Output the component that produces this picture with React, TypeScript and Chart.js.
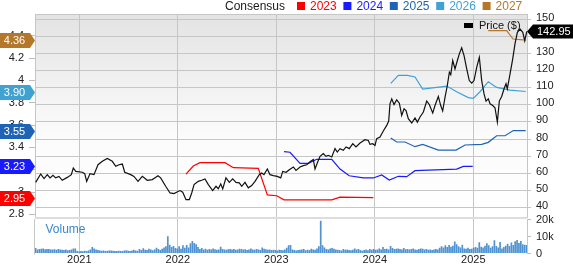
import React, { useEffect, useRef } from 'react';
import { Chart, registerables } from 'chart.js';
Chart.register(...registerables);

const FONT = '"Liberation Sans", Arial, Helvetica, sans-serif';

const X_MIN = 2020.5503;
const X_MAX = 2025.545;
const yearTicks = [2021, 2022, 2023, 2024, 2025];
const priceTicks = [40, 50, 60, 70, 80, 90, 100, 110, 120, 130, 140, 150];
const epsTicks = [2.8, 3.0, 3.2, 3.4, 3.6, 3.8, 4.0, 4.2, 4.4];
const volTicks = [0, 5, 10, 15, 20];

const priceDates = [2020.557,2020.608,2020.642,2020.675,2020.703,2020.733,2020.760,2020.794,2020.827,2020.878,2020.919,2020.939,2020.964,2021.031,2021.055,2021.075,2021.109,2021.149,2021.190,2021.234,2021.284,2021.335,2021.370,2021.403,2021.437,2021.461,2021.522,2021.555,2021.596,2021.640,2021.690,2021.741,2021.766,2021.799,2021.826,2021.877,2021.921,2021.961,2022.022,2022.050,2022.083,2022.117,2022.141,2022.165,2022.208,2022.243,2022.276,2022.310,2022.354,2022.388,2022.411,2022.436,2022.456,2022.489,2022.523,2022.557,2022.591,2022.624,2022.649,2022.682,2022.716,2022.750,2022.784,2022.827,2022.852,2022.875,2022.909,2022.936,2022.970,2023.010,2023.045,2023.065,2023.099,2023.132,2023.173,2023.200,2023.241,2023.274,2023.309,2023.349,2023.376,2023.393,2023.416,2023.444,2023.477,2023.505,2023.528,2023.563,2023.596,2023.619,2023.647,2023.680,2023.708,2023.741,2023.776,2023.809,2023.850,2023.901,2023.934,2023.951,2023.979,2024.002,2024.019,2024.053,2024.086,2024.121,2024.141,2024.154,2024.172,2024.195,2024.222,2024.249,2024.273,2024.297,2024.317,2024.340,2024.375,2024.408,2024.432,2024.459,2024.493,2024.527,2024.553,2024.588,2024.611,2024.645,2024.669,2024.689,2024.713,2024.736,2024.757,2024.771,2024.791,2024.814,2024.838,2024.858,2024.882,2024.906,2024.933,2024.959,2024.984,2025.007,2025.035,2025.061,2025.085,2025.109,2025.129,2025.152,2025.170,2025.197,2025.220,2025.244,2025.264,2025.288,2025.312,2025.332,2025.345,2025.373,2025.400,2025.423,2025.447,2025.474,2025.502,2025.522,2025.543];
const priceValues = [54.7,59.6,56.9,59.2,57.3,58.8,57.3,58.2,55.9,57.6,59.2,63.1,61.1,60.6,59.8,55.3,59.8,59.2,65,67,68.7,67,64.1,65,65.4,60.6,59.2,58.2,55.3,58.2,55.9,56.3,57.3,58.6,57.3,52.4,48.5,48.1,49.9,48.9,44.6,44.6,48.5,53.4,55.3,55.9,56.7,53.4,49.9,52.4,51,53.8,50.9,57.3,54.7,56.7,54.7,54.4,52.4,54.7,51.5,52.8,55.3,59.2,60.2,59.2,62.5,59.2,58.6,58.2,57.3,61.1,60.6,62.1,63.7,61.7,63.7,64.5,65,67,68,62.5,66,69.9,71.5,69.9,70.5,69.5,74.4,72.4,74.4,73.4,75.4,74.4,77.3,75.4,77.7,79.6,79.2,76.9,77.3,76.3,80.2,81.2,84.7,88,90.5,100.6,103.5,100.2,102.9,101,93.8,97.7,96.7,91.9,89.4,92.4,89.9,92.9,95.8,102.2,100.2,95.2,99.6,104.9,99.6,96.4,104.5,111.3,119.1,117.7,125.9,121,125.9,129.8,133.3,128.8,121,114.2,112.7,114.2,122,127.8,114.2,106.4,102.2,103.5,100.6,99.6,98.3,89.9,102.2,104.9,109.4,112.3,109.4,118.1,126.9,135.6,142.4,144.3,142.4,137.5,142.95];

const eps2023Dates = [2022.083,2022.157,2022.225,2022.479,2022.564,2022.817,2022.909,2023.004,2023.078,2023.563,2023.647,2023.985];
const eps2023Values = [3.161,3.233,3.263,3.263,3.218,3.212,2.974,2.967,2.93,2.93,2.955,2.95];
const eps2024Dates = [2023.078,2023.139,2023.241,2023.325,2023.410,2023.563,2023.647,2023.741,2023.884,2023.985,2024.070,2024.147,2024.239,2024.324,2024.408,2024.543,2024.764,2024.831,2024.899,2024.994];
const eps2024Values = [3.361,3.356,3.257,3.257,3.293,3.293,3.206,3.146,3.126,3.126,3.153,3.108,3.141,3.138,3.191,3.197,3.203,3.205,3.23,3.23];
const eps2025Dates = [2024.162,2024.222,2024.307,2024.408,2024.486,2024.645,2024.825,2024.916,2025.085,2025.152,2025.237,2025.322,2025.406,2025.532];
const eps2025Values = [3.484,3.448,3.448,3.406,3.427,3.376,3.376,3.421,3.427,3.445,3.504,3.504,3.55,3.55];
const eps2026Dates = [2024.162,2024.239,2024.330,2024.408,2024.486,2024.629,2024.730,2024.831,2024.949,2025.000,2025.068,2025.152,2025.237,2025.373,2025.532];
const eps2026Values = [3.973,4.045,4.045,4.03,3.922,3.937,3.949,3.898,3.845,3.839,3.898,3.988,3.937,3.913,3.90];
const eps2027Dates = [2025.152,2025.339,2025.403,2025.532];
const eps2027Values = [4.445,4.445,4.37,4.36];

const seriesYears = ['2023', '2024', '2025', '2026', '2027'];
const seriesColors = ['#ff0000', '#1a1aff', '#1f63b5', '#3fa2d3', '#b5782b'];
const seriesDates = [eps2023Dates, eps2024Dates, eps2025Dates, eps2026Dates, eps2027Dates];
const seriesValues = [eps2023Values, eps2024Values, eps2025Values, eps2026Values, eps2027Values];

const VOL_START = 2020.557;
const WEEK = 7 / 365.25;
const vol2020 = [3.2,2.4,2.6,2.8,2.9,2.5,2.7,2.6,2.4,2.3,2.5,2.2,2.6,2.4,2.2,2.0,2.3,1.9,2.1,2.4,2.9,3.0,1.5];
const vol2021 = [1.2,1.4,1.3,1.6,1.5,1.8,2.4,3.8,3.0,2.4,2.0,1.8,1.6,1.7,1.5,1.6,1.8,1.7,1.6,1.5,1.4,1.6,1.5,1.4,1.7,1.9,1.6,1.5,1.8,2.2,1.7,1.6,2.6,2.0,3.1,2.2,2.0,2.8,2.3,1.9,2.4,3.4,2.6,2.1,2.8,3.6,4.2,10.2,5.2,3.8,4.4,3.2];
const vol2022 = [3.0,4.2,2.8,4.8,3.4,5.0,3.6,6.0,7.4,6.2,5.4,3.8,2.6,3.2,2.4,2.8,2.2,2.6,2.4,3.0,2.5,2.2,2.4,3.9,2.6,2.4,2.2,2.5,2.7,2.3,2.6,2.2,2.4,2.8,2.6,2.3,2.5,2.1,2.4,2.9,2.3,2.2,2.6,2.4,2.1,3.6,2.8,2.5,2.2,2.4,2.0,2.2];
const vol2023 = [2.0,1.8,2.2,2.0,1.9,2.4,3.4,4.8,5.0,2.4,2.0,1.8,2.0,2.2,2.3,2.6,1.9,2.2,2.0,2.8,2.4,2.2,3.0,4.2,19.2,4.8,3.6,2.6,2.4,3.0,3.2,2.8,2.4,2.2,2.0,1.8,2.6,2.2,2.4,2.0,1.9,2.2,3.0,2.4,2.6,2.1,1.6,2.0,2.4,1.9,2.6,2.2];
const vol2024 = [2.6,2.2,2.4,3.0,2.4,3.8,2.6,2.8,2.4,4.4,3.2,2.6,2.8,3.0,2.6,2.4,3.2,2.5,2.7,2.3,2.6,2.9,2.4,2.2,2.6,3.0,2.8,2.4,2.6,2.2,2.4,2.0,2.3,2.6,2.4,3.4,4.2,3.6,4.8,3.8,5.0,4.0,4.6,7.0,5.4,4.2,3.6,5.2,3.0,2.8,3.4,2.6];
const vol2025 = [2.8,3.4,3.8,3.4,6.6,4.0,3.6,4.6,6.0,4.8,3.4,4.2,7.8,4.4,3.6,6.8,3.0,3.8,4.6,5.8,4.4,6.4,5.0,7.2,8.0,6.2,7.4,5.4,5.2,5.0];
const volumeValues = [...vol2020, ...vol2021, ...vol2022, ...vol2023, ...vol2024, ...vol2025];

const LAST_PRICE = 142.95;
const GRID = '#c6c6c6';

function pts(d: number[], v: number[]) {
  return d.map((x, i) => ({ x, y: v[i] }));
}

function zeroPad(s: any) {
  s.paddingTop = 0; s.paddingBottom = 0; s.paddingLeft = 0; s.paddingRight = 0;
}

const mainDecor = {
  id: 'mainDecor',
  beforeDraw(chart: any) {
    const { ctx, chartArea: a } = chart;
    ctx.save();
    const g = ctx.createLinearGradient(0, a.top, 0, a.bottom);
    g.addColorStop(0, '#e3e3e3');
    g.addColorStop(0.6, '#fbfbfb');
    g.addColorStop(1, '#ffffff');
    ctx.fillStyle = g;
    ctx.fillRect(a.left, a.top, a.right - a.left, a.bottom - a.top);
    ctx.restore();
  },
  afterDraw(chart: any) {
    const { ctx, chartArea: a, scales } = chart;
    ctx.save();
    ctx.strokeStyle = GRID; ctx.lineWidth = 1;
    ctx.beginPath(); ctx.moveTo(a.left, a.top + 0.5); ctx.lineTo(a.right, a.top + 0.5); ctx.stroke();
    ctx.fillStyle = '#dddddd';
    ctx.fillRect(a.left, a.bottom, a.right - a.left, 2);

    // consensus legend
    ctx.font = `12px ${FONT}`; ctx.textAlign = 'left'; ctx.textBaseline = 'alphabetic';
    ctx.fillStyle = '#1a1a1a';
    ctx.fillText('Consensus', 225, 10);
    seriesYears.forEach((yr, i) => {
      const bx = 297 + i * 46.4;
      ctx.fillStyle = seriesColors[i];
      ctx.fillRect(bx, 2, 8, 8);
      ctx.fillText(yr, bx + 13, 10);
    });

    // price legend
    ctx.fillStyle = '#000';
    ctx.fillRect(464, 23, 9, 5);
    ctx.font = `11px ${FONT}`; ctx.textBaseline = 'middle';
    ctx.fillStyle = '#111';
    ctx.fillText('Price ($)', 479, 26);

    // eps tags
    const yE = scales.yE;
    for (let i = seriesYears.length - 1; i >= 0; i--) {
      const vals = seriesValues[i];
      const v = vals[vals.length - 1];
      const y = Math.round(yE.getPixelForValue(v)) + 0.5;
      const h = 15;
      ctx.fillStyle = seriesColors[i];
      ctx.beginPath();
      ctx.moveTo(0, y - h / 2); ctx.lineTo(30, y - h / 2); ctx.lineTo(35, y);
      ctx.lineTo(30, y + h / 2); ctx.lineTo(0, y + h / 2); ctx.closePath(); ctx.fill();
      ctx.fillStyle = '#fff'; ctx.font = `11px ${FONT}`;
      ctx.textAlign = 'center'; ctx.textBaseline = 'middle';
      ctx.fillText(v.toFixed(2), 14.5, y + 0.5);
    }

    // price tag
    const yP = scales.yP;
    const py = Math.round(yP.getPixelForValue(LAST_PRICE)) + 0.5;
    ctx.fillStyle = '#000';
    ctx.beginPath();
    ctx.moveTo(a.right, py); ctx.lineTo(a.right + 6, py - 7); ctx.lineTo(573, py - 7);
    ctx.lineTo(573, py + 7); ctx.lineTo(a.right + 6, py + 7); ctx.closePath(); ctx.fill();
    ctx.fillStyle = '#fff'; ctx.textAlign = 'left'; ctx.textBaseline = 'middle';
    ctx.font = `11px ${FONT}`;
    ctx.fillText(LAST_PRICE.toFixed(2), a.right + 10, py + 0.5);
    ctx.restore();
  },
};

const volDecor = {
  id: 'volDecor',
  beforeDraw(chart: any) {
    const { ctx, chartArea: a } = chart;
    ctx.save();
    ctx.fillStyle = '#ffffff';
    ctx.fillRect(a.left, a.top, a.right - a.left, a.bottom - a.top);
    ctx.restore();
  },
  afterDraw(chart: any) {
    const { ctx, chartArea: a } = chart;
    ctx.save();
    ctx.strokeStyle = GRID; ctx.lineWidth = 1;
    ctx.beginPath(); ctx.moveTo(a.left - 0.5, a.top); ctx.lineTo(a.left - 0.5, a.bottom + 1); ctx.stroke();
    ctx.font = `12px ${FONT}`; ctx.fillStyle = '#3a88cc';
    ctx.textAlign = 'left'; ctx.textBaseline = 'alphabetic';
    ctx.fillText('Volume', 45.5, a.top + 14);
    ctx.restore();
  },
};

export default function App() {
  const mainRef = useRef<HTMLCanvasElement>(null);
  const volRef = useRef<HTMLCanvasElement>(null);

  useEffect(() => {
    const tickFont = { family: FONT, size: 11 };
    const main = new Chart(mainRef.current!, {
      type: 'line',
      data: {
        datasets: [
          {
            data: pts(priceDates, priceValues), yAxisID: 'yP', borderColor: '#111',
            borderWidth: 1.2, pointRadius: 0, tension: 0,
          } as any,
          ...seriesYears.map((yr, i) => ({
            data: pts(seriesDates[i], seriesValues[i]), yAxisID: 'yE', borderColor: seriesColors[i],
            borderWidth: 1.2, pointRadius: 0, tension: 0, label: yr,
          })),
        ],
      },
      options: {
        responsive: false, animation: false, devicePixelRatio: 1, events: [],
        layout: { padding: { top: 14, left: 0, right: 0, bottom: 2 } },
        plugins: { legend: { display: false }, tooltip: { enabled: false } },
        scales: {
          x: {
            type: 'linear', min: X_MIN, max: X_MAX, offset: false,
            afterBuildTicks: (s: any) => { s.ticks = yearTicks.map((v) => ({ value: v })); },
            afterFit: (s: any) => { s.height = 0; zeroPad(s); },
            ticks: { display: false },
            grid: { color: GRID, drawTicks: false, offset: false },
            border: { display: false },
          },
          yP: {
            type: 'linear', position: 'right', min: 34.45, max: 153.1,
            afterBuildTicks: (s: any) => { s.ticks = priceTicks.map((v) => ({ value: v })); },
            afterFit: (s: any) => { s.width = 46; zeroPad(s); },
            ticks: { font: tickFont, color: '#222', padding: 5, labelOffset: -1.5, callback: (v: any) => String(v) },
            grid: { color: GRID, tickLength: 4 },
            border: { display: true, color: GRID },
          },
          yE: {
            type: 'linear', position: 'left', min: 2.7765, max: 4.594,
            afterBuildTicks: (s: any) => { s.ticks = epsTicks.map((v) => ({ value: v })); },
            afterFit: (s: any) => { s.width = 35; zeroPad(s); },
            ticks: { font: tickFont, color: '#222', padding: 5, callback: (v: any) => String(Math.round(v * 10) / 10) },
            grid: { drawOnChartArea: false, color: '#bdbdbd', tickLength: 6 },
            border: { display: true, color: GRID },
          },
        },
      } as any,
      plugins: [mainDecor],
    });

    const vol = new Chart(volRef.current!, {
      type: 'bar',
      data: {
        datasets: [{
          data: volumeValues.map((v, i) => ({ x: VOL_START + i * WEEK, y: v })),
          backgroundColor: '#4f93d2', borderWidth: 0, barPercentage: 0.9, categoryPercentage: 1,
          yAxisID: 'yV',
        } as any],
      },
      options: {
        responsive: false, animation: false, devicePixelRatio: 1, events: [],
        layout: { padding: { top: 10, left: 35, right: 0, bottom: 0 } },
        plugins: { legend: { display: false }, tooltip: { enabled: false } },
        scales: {
          x: {
            type: 'linear', min: X_MIN, max: X_MAX, offset: false,
            afterBuildTicks: (s: any) => { s.ticks = yearTicks.map((v) => ({ value: v })); },
            afterFit: (s: any) => { s.height = 10.5; zeroPad(s); },
            ticks: { font: tickFont, color: '#222', padding: 0, maxRotation: 0, callback: (v: any) => String(v) },
            grid: { color: GRID, drawTicks: false, offset: false },
            border: { display: false },
          },
          yV: {
            type: 'linear', position: 'right', min: 0, max: 20.3,
            afterBuildTicks: (s: any) => { s.ticks = volTicks.map((v) => ({ value: v })); },
            afterFit: (s: any) => { s.width = 46; zeroPad(s); },
            ticks: { font: tickFont, color: '#222', padding: 5, callback: (v: any) => (v === 0 ? '0' : `${v}k`) },
            grid: { drawOnChartArea: false, color: '#bdbdbd', tickLength: 4 },
            border: { display: true, color: GRID },
          },
        },
      } as any,
      plugins: [volDecor],
    });

    return () => { main.destroy(); vol.destroy(); };
  }, []);

  return (
    <div style={{ position: 'absolute', left: 0, top: 0, width: 573, height: 264, background: '#fff', overflow: 'hidden' }}>
      <canvas ref={mainRef} width={573} height={219} style={{ position: 'absolute', left: 0, top: 0 }} />
      <canvas ref={volRef} width={573} height={55} style={{ position: 'absolute', left: 0, top: 209 }} />
    </div>
  );
}
